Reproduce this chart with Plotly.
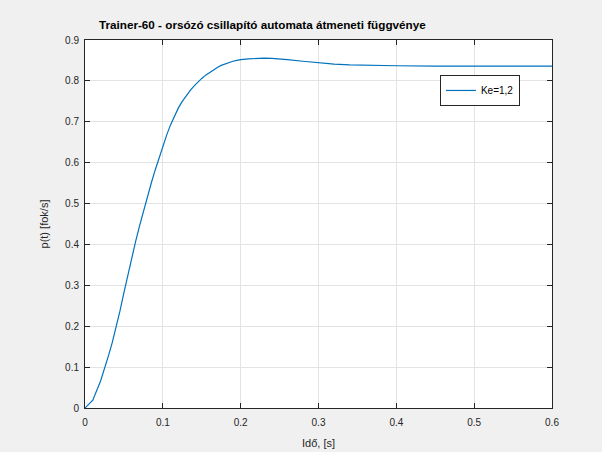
import plotly.graph_objects as go

t_values = [0, 0.01, 0.02, 0.025, 0.03, 0.035, 0.04, 0.045, 0.05, 0.055, 0.06, 0.065,
            0.07, 0.075, 0.08, 0.085, 0.09, 0.095, 0.10, 0.105, 0.11, 0.115, 0.12,
            0.125, 0.13, 0.135, 0.14, 0.145, 0.15, 0.155, 0.16, 0.165, 0.17, 0.175,
            0.18, 0.185, 0.19, 0.195, 0.20, 0.21, 0.22, 0.23, 0.24, 0.25, 0.26, 0.28,
            0.30, 0.32, 0.34, 0.36, 0.38, 0.40, 0.45, 0.50, 0.55, 0.60]
p_values = [0, 0.019, 0.066, 0.095, 0.127, 0.160, 0.197, 0.238, 0.282, 0.326, 0.367,
            0.407, 0.445, 0.481, 0.516, 0.549, 0.581, 0.612, 0.641, 0.668, 0.693,
            0.715, 0.734, 0.750, 0.764, 0.776, 0.787, 0.797, 0.806, 0.814, 0.821,
            0.8275, 0.833, 0.838, 0.842, 0.845, 0.848, 0.850, 0.852, 0.854, 0.855,
            0.8555, 0.855, 0.854, 0.852, 0.848, 0.844, 0.841, 0.839, 0.838, 0.837,
            0.837, 0.836, 0.836, 0.836, 0.836]
series_name = "Ke=1,2"
x_ticks = [0, 0.1, 0.2, 0.3, 0.4, 0.5, 0.6]
y_ticks = [0, 0.1, 0.2, 0.3, 0.4, 0.5, 0.6, 0.7, 0.8, 0.9]

FONT = "Liberation Sans, Arial, sans-serif"

fig = go.Figure()
fig.add_trace(go.Scatter(x=t_values, y=p_values, mode="lines", name=series_name,
                         line=dict(color="#0072BD", width=1.2)))

axis_common = dict(
    showline=True, linecolor="#262626", linewidth=1, mirror="ticks",
    ticks="inside", ticklen=5, tickcolor="#262626",
    showgrid=True, gridcolor="#e3e3e3", gridwidth=1, automargin=False,
    zeroline=False, tickfont=dict(family=FONT, size=10, color="#262626"),
)

fig.update_layout(
    width=602, height=452,
    margin=dict(l=85, r=50, t=40, b=44),
    paper_bgcolor="#f0f0f0", plot_bgcolor="white",
    font=dict(family=FONT, size=11, color="#262626"),
    title=dict(text="<b>Trainer-60 - orsózó csillapító automata átmeneti függvénye</b>",
               x=0.03, xref="paper", xanchor="left",
               y=1 - 25 / 452, yref="container", yanchor="middle",
               font=dict(family=FONT, size=11.7, color="#000000")),
    xaxis=dict(range=[0, 0.6], tickvals=x_ticks, ticktext=[str(v) for v in x_ticks],
               ticklabelstandoff=5,
               title=dict(text="Idő, [s]", font=dict(family=FONT, size=11), standoff=12),
               **axis_common),
    yaxis=dict(range=[0, 0.9], tickvals=y_ticks, ticktext=[str(v) for v in y_ticks],
               ticklabelstandoff=3,
               title=dict(text="p(t) [fok/s]", font=dict(family=FONT, size=11), standoff=14),
               **axis_common),
    showlegend=True,
    legend=dict(x=0.76, y=0.905, xanchor="left", yanchor="top",
                bgcolor="white", bordercolor="#262626", borderwidth=1,
                font=dict(family=FONT, size=10, color="#000000")),
)

fig.write_html("out.html", config={"displayModeBar": False},
               post_script="document.body.style.margin='0';")
